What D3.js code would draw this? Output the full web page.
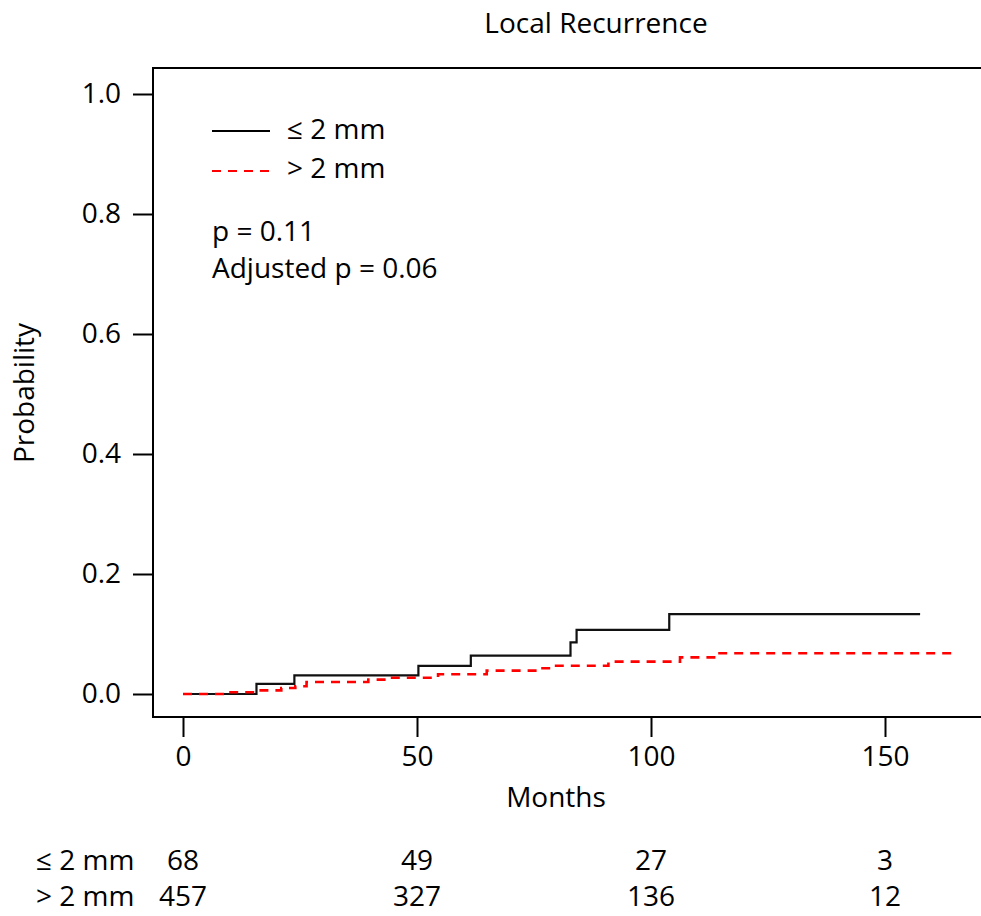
<!DOCTYPE html>
<html>
<head>
<meta charset="utf-8">
<script src="https://cdn.jsdelivr.net/npm/d3@7"></script>
<style>
 body { margin: 0; background: #fff; }
 svg text { font-family: "Open Sans", sans-serif; fill: #000; }
</style>
</head>
<body>
<div id="chart"></div>
<script>
// axis ticks
const xTicks = [0, 50, 100, 150];
const yTicks = [0, 0.2, 0.4, 0.6, 0.8, 1.0];

// groups
const groups = ["\u2264 2 mm", "> 2 mm"];

// cumulative incidence, <= 2 mm
const leTimes = [0, 15.7, 23.8, 50.3, 61.5, 82.8, 84.1, 103.9, 157.5];
const leProb  = [0, 0.017, 0.031, 0.047, 0.064, 0.086, 0.107, 0.133, 0.133];

// cumulative incidence, > 2 mm
const gtTimes = [0, 9.6, 16, 21, 24, 26.4, 39.6, 44.2, 54.5, 64.9, 75.6, 78.8, 90.9, 106.2, 114.2, 164.2];
const gtProb  = [0, 0.003, 0.006, 0.010, 0.013, 0.020, 0.024, 0.027, 0.033, 0.039, 0.043, 0.047, 0.054, 0.061, 0.068, 0.068];

// numbers at risk
const leRisk = [68, 49, 27, 3];
const gtRisk = [457, 327, 136, 12];

const width = 981, height = 916;
const box = { left: 153, top: 68, right: 995, bottom: 717 };
const fs = 28;

const svg = d3.select("#chart").append("svg")
  .attr("width", width)
  .attr("height", height);

const x = d3.scaleLinear().domain([0, 150]).range([183, 885]);
const y = d3.scaleLinear().domain([0, 1]).range([694, 94]);

// plot frame
svg.append("rect")
  .attr("x", box.left).attr("y", box.top)
  .attr("width", box.right - box.left).attr("height", box.bottom - box.top)
  .attr("fill", "none").attr("stroke", "#000").attr("stroke-width", 2);

// y axis
const yAxis = svg.append("g")
  .attr("transform", `translate(${box.left},0)`)
  .call(d3.axisLeft(y).tickValues(yTicks).tickFormat(d3.format(".1f")).tickSize(20).tickPadding(12));
yAxis.select(".domain").remove();
yAxis.selectAll("line").attr("stroke-width", 2);
yAxis.selectAll("text").attr("font-size", fs).attr("font-family", "Open Sans");

// x axis
const xAxis = svg.append("g")
  .attr("transform", `translate(0,${box.bottom})`)
  .call(d3.axisBottom(x).tickValues(xTicks).tickSize(20).tickPadding(9));
xAxis.select(".domain").remove();
xAxis.selectAll("line").attr("stroke-width", 2);
xAxis.selectAll("text").attr("font-size", fs).attr("font-family", "Open Sans");

// titles
svg.append("text").attr("x", 596).attr("y", 33)
  .attr("text-anchor", "middle").attr("font-size", fs).text("Local Recurrence");
svg.append("text").attr("x", 556).attr("y", 807)
  .attr("text-anchor", "middle").attr("font-size", fs).text("Months");
svg.append("text")
  .attr("transform", "translate(34,393) rotate(-90)")
  .attr("text-anchor", "middle").attr("font-size", fs).text("Probability");

// curves
const line = d3.line()
  .x(d => x(d[0])).y(d => y(d[1]))
  .curve(d3.curveStepAfter);

svg.append("path")
  .datum(d3.zip(leTimes, leProb))
  .attr("d", line)
  .attr("fill", "none").attr("stroke", "#111").attr("stroke-width", 2.2);

svg.append("path")
  .datum(d3.zip(gtTimes, gtProb))
  .attr("d", line)
  .attr("fill", "none").attr("stroke", "#ff0000").attr("stroke-width", 2.6)
  .attr("stroke-dasharray", "9,7");

// legend
const legend = svg.append("g");
legend.append("line").attr("x1", 212).attr("x2", 270).attr("y1", 131).attr("y2", 131)
  .attr("stroke", "#000").attr("stroke-width", 2);
legend.append("line").attr("x1", 212).attr("x2", 270).attr("y1", 171).attr("y2", 171)
  .attr("stroke", "#ff0000").attr("stroke-width", 2).attr("stroke-dasharray", "9,7");
legend.selectAll("text.lab").data(groups).enter().append("text")
  .attr("x", 287).attr("y", (d, i) => 139 + i * 39)
  .attr("font-size", fs).text(d => d);

svg.append("text").attr("x", 212).attr("y", 241).attr("font-size", fs).text("p = 0.11");
svg.append("text").attr("x", 212).attr("y", 278).attr("font-size", fs).text("Adjusted p = 0.06");

// risk table
const risk = [leRisk, gtRisk];
risk.forEach((row, i) => {
  const yy = 870 + i * 36;
  svg.append("text").attr("x", 36).attr("y", yy).attr("font-size", fs).text(groups[i]);
  svg.selectAll(null).data(row).enter().append("text")
    .attr("x", (d, j) => x(xTicks[j]))
    .attr("y", yy)
    .attr("text-anchor", "middle")
    .attr("font-size", fs)
    .text(d => d);
});
</script>
</body>
</html>
